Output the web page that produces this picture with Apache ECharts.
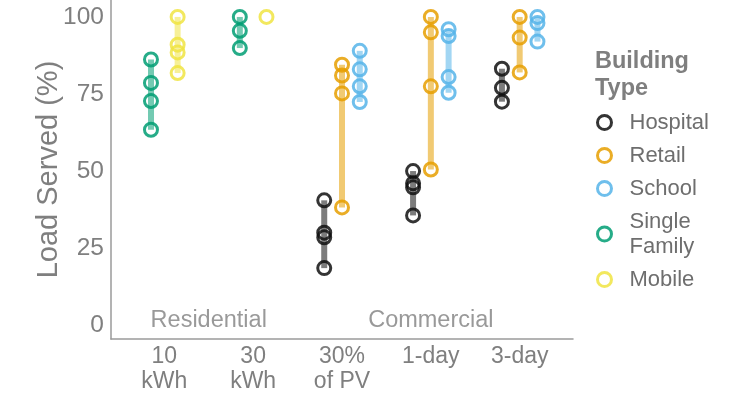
<!DOCTYPE html>
<html>
<head>
<meta charset="utf-8">
<script src="https://cdn.jsdelivr.net/npm/echarts@6/dist/echarts.min.js"></script>
<style>
  html, body { margin: 0; padding: 0; background: #fff; }
  #chart { width: 736px; height: 394px; }
</style>
</head>
<body>
<div id="chart"></div>
<script>
// categories along x, and the group each belongs to
const categories = ["10\nkWh", "30\nkWh", "30%\nof PV", "1-day", "3-day"];
const groupNames = ["Residential", "Commercial"];
const groupOfCategory = [0, 0, 1, 1, 1];
const yTicks = [0, 25, 50, 75, 100];

// load served (%) per building type, one list per category (null = not simulated)
const hospital = [null, null, [40.5, 30, 28.5, 18.5], [50, 46, 44.7, 35.6], [83.2, 77, 72.5]];
const retail = [null, null, [84.5, 81, 75.2, 38.2], [100, 95, 77.5, 50.5], [100, 93.3, 82]];
const school = [null, null, [89, 83, 77.5, 72.4], [96, 93.8, 80.5, 75.4], [100, 98, 92]];
const singleFamily = [[86.2, 78.6, 72.7, 63.4], [100, 95.5, 89.9], null, null, null];
const mobile = [[100, 91, 88.5, 81.8], [100], null, null, null];

const types = ["Hospital", "Retail", "School", "Single\nFamily", "Mobile"];
const typeData = [hospital, retail, school, singleFamily, mobile];
const colors = ["#111111", "#E69F00", "#56B4E9", "#009E73", "#F0E442"];

const grey = "#7f7f7f";
const font = "'Liberation Sans', Arial, sans-serif";
const dodgeWidth = 0.6;

// dodge positions like ggplot: split the width among the types present in a category
function xPos(typeIdx, catIdx) {
  const present = [];
  typeData.forEach((d, i) => { if (d[catIdx]) present.push(i); });
  const n = present.length;
  const k = present.indexOf(typeIdx);
  return catIdx + 1 - dodgeWidth / 2 + dodgeWidth * (k + 0.5) / n;
}

const series = [];
typeData.forEach((d, t) => {
  const pts = [];
  const ranges = [];
  d.forEach((vals, c) => {
    if (!vals) return;
    const x = xPos(t, c);
    vals.forEach(v => pts.push([x, v]));
    ranges.push([x, Math.min(...vals), Math.max(...vals)]);
  });
  // min-max range bar
  series.push({
    name: types[t] + "-range",
    type: "custom",
    z: 1,
    silent: true,
    data: ranges,
    encode: { x: 0, y: [1, 2] },
    renderItem: function (params, api) {
      const a = api.coord([api.value(0), api.value(1)]);
      const b = api.coord([api.value(0), api.value(2)]);
      return {
        type: "line",
        shape: { x1: a[0], y1: a[1], x2: b[0], y2: b[1] },
        style: { stroke: colors[t], lineWidth: 6, opacity: 0.55 }
      };
    }
  });
  series.push({
    name: types[t],
    type: "scatter",
    z: 3,
    symbol: "circle",
    symbolSize: 13,
    itemStyle: { color: "rgba(255,255,255,0)", borderColor: colors[t], borderWidth: 3, opacity: 0.85 },
    data: pts
  });
});

// group labels inside the plot, centred over their categories
const groupLabels = groupNames.map((g, gi) => {
  const idx = groupOfCategory.map((v, i) => (v === gi ? i + 1 : null)).filter(v => v !== null);
  const cx = idx.reduce((s, v) => s + v, 0) / idx.length;
  return { value: [cx, 1.5], name: g };
});
series.push({
  name: "groups",
  type: "scatter",
  silent: true,
  symbolSize: 0,
  data: groupLabels,
  label: {
    show: true,
    position: "inside",
    formatter: p => p.name,
    fontSize: 23.5,
    color: grey,
    fontFamily: font
  }
});

const chart = echarts.init(document.getElementById("chart"));
chart.setOption({
  animation: false,
  textStyle: { fontFamily: font },
  title: {
    text: "Building\nType",
    left: 590,
    top: 43,
    textStyle: { fontSize: 23.5, fontWeight: "bold", color: grey, lineHeight: 27, fontFamily: font }
  },
  legend: {
    orient: "vertical",
    left: 591,
    top: 105,
    itemGap: 8,
    itemWidth: 14,
    itemHeight: 14,
    icon: "circle",
    textStyle: { fontSize: 22, color: "#6e6e6e", lineHeight: 25, fontFamily: font, padding: [0, 0, 0, 13] },
    data: types.map((name, i) => ({
      name: name,
      itemStyle: { color: "rgba(255,255,255,0)", borderColor: colors[i], borderWidth: 3 }
    }))
  },
  grid: { left: 111, right: 163, top: 0, bottom: 55 },
  xAxis: {
    type: "value",
    min: 0.4,
    max: 5.6,
    splitLine: { show: false },
    axisTick: { show: false },
    axisLine: { show: true, onZero: false, lineStyle: { color: "#9a9a9a", width: 1.5 } },
    axisLabel: {
      customValues: [1, 2, 3, 4, 5],
      formatter: v => categories[Math.round(v) - 1],
      fontSize: 23,
      lineHeight: 25,
      color: grey,
      margin: 5,
      fontFamily: font
    }
  },
  yAxis: {
    type: "value",
    min: -4.5,
    max: 105.5,
    name: "Load Served (%)",
    nameLocation: "middle",
    nameGap: 48,
    nameMoveOverlap: false,
    nameTextStyle: { fontSize: 29, color: grey, fontFamily: font },
    splitLine: { show: false },
    axisTick: { show: false },
    axisLine: { show: true, onZero: false, lineStyle: { color: "#9a9a9a", width: 1.5 } },
    axisLabel: {
      customValues: yTicks,
      fontSize: 24.5,
      color: grey,
      margin: 7,
      fontFamily: font
    }
  },
  series: series
});
</script>
</body>
</html>
